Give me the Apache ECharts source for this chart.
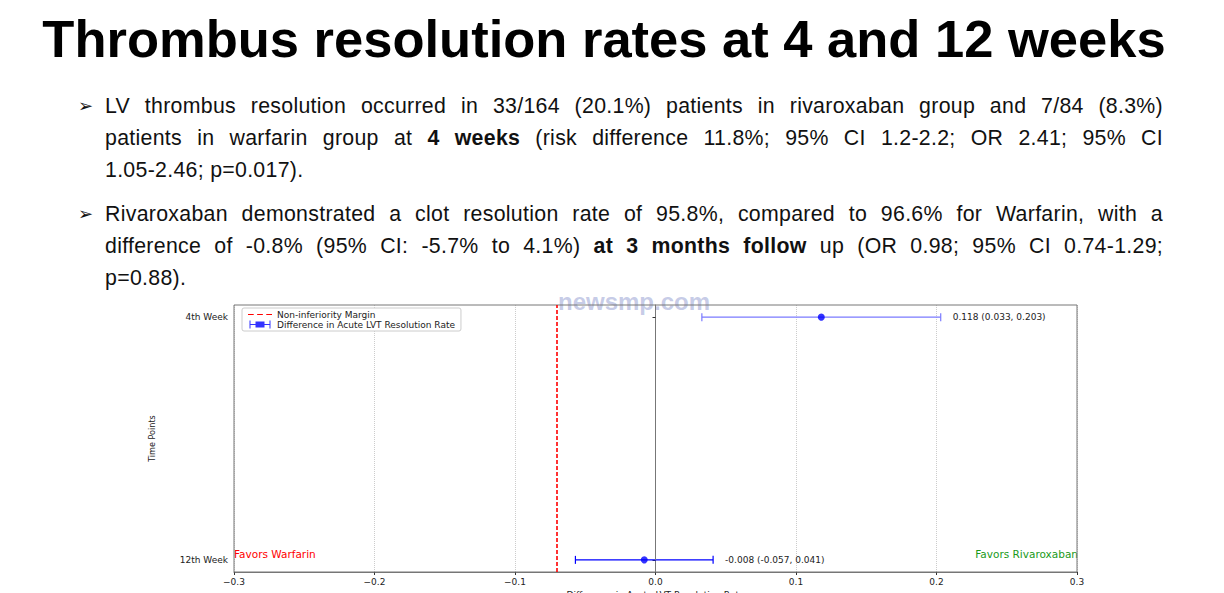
<!DOCTYPE html>
<html><head><meta charset="utf-8">
<script src="https://cdn.jsdelivr.net/npm/echarts@6/dist/echarts.min.js"></script>
<style>
body{margin:0;width:1224px;height:593px;background:#fff;overflow:hidden;font-family:"Liberation Sans",Arial,sans-serif;position:relative}
h1{position:absolute;left:0;width:1208px;top:8px;margin:0;text-align:center;font-size:52.5px;font-weight:bold;color:#000;white-space:nowrap}
.b{position:absolute;left:105px;width:1058px;font-size:21.3px;letter-spacing:0.3px;line-height:32px;color:#111}
.b div{white-space:nowrap}
.b .j{text-align:justify;text-align-last:justify}
.b:before{content:"\27A2";position:absolute;left:-27px;font-size:18px}
#chart{position:absolute;left:130px;top:295px;width:980px;height:310px}
</style></head><body>
<h1>Thrombus resolution rates at 4 and 12 weeks</h1>
<div class="b" style="top:90px">
<div class="j">LV thrombus resolution occurred in 33/164 (20.1%) patients in rivaroxaban group and 7/84 (8.3%)</div>
<div class="j">patients in warfarin group at <b>4 weeks</b> (risk difference 11.8%; 95% CI 1.2-2.2; OR 2.41; 95% CI</div>
<div>1.05-2.46; p=0.017).</div>
</div>
<div class="b" style="top:198px">
<div class="j">Rivaroxaban demonstrated a clot resolution rate of 95.8%, compared to 96.6% for Warfarin, with a</div>
<div class="j">difference of -0.8% (95% CI: -5.7% to 4.1%) <b>at 3 months follow</b> up (OR 0.98; 95% CI 0.74-1.29;</div>
<div>p=0.88).</div>
</div>
<div id="chart"></div>
<script>
var timePoints = ['12th Week', '4th Week'];
var estimates = [-0.008, 0.118];
var lower = [-0.057, 0.033];
var upper = [0.041, 0.203];
var margin = -0.07;
var xTicks = [-0.3, -0.2, -0.1, 0.0, 0.1, 0.2, 0.3];

var chart = echarts.init(document.getElementById('chart'), null, { renderer: 'svg' });
var font = 'DejaVu Sans';
var ciData = timePoints.map(function(t, i) { return [lower[i], upper[i], i, estimates[i]]; });
chart.setOption({
  animation: false,
  textStyle: { fontFamily: font },
  grid: { left: 104, right: 33, top: 10, bottom: 33, containLabel: false, outerBoundsMode: 'none' },
  legend: {
    left: 112, top: 13, orient: 'vertical', itemGap: 1, itemWidth: 24, itemHeight: 8,
    backgroundColor: '#fff', borderColor: '#ccc', borderWidth: 1, borderRadius: 2, padding: [2, 6],
    textStyle: { fontSize: 9, color: '#222', fontFamily: font },
    data: [
      { name: 'Non-inferiority Margin', icon: 'path://M0,4h5v1h-5zM8,4h5v1h-5zM16,4h5v1h-5z', itemStyle: { color: 'red' } },
      { name: 'Difference in Acute LVT Resolution Rate', icon: 'path://M0,0h1v8h-1zM20,0h1v8h-1zM0,3.5h21v1h-21zM6,1h9v6h-9z', itemStyle: { color: 'blue' } }
    ]
  },
  xAxis: {
    type: 'value', min: xTicks[0], max: xTicks[xTicks.length - 1], interval: 0.1,
    name: 'Difference in Acute LVT Resolution Rate', nameLocation: 'middle', nameGap: 14,
    nameTextStyle: { fontSize: 9, color: '#222' },
    axisLine: { onZero: false, lineStyle: { color: '#777' } },
    axisTick: { length: 3, lineStyle: { color: '#333' } },
    axisLabel: { fontSize: 9, color: '#222', margin: 5, formatter: function(v) { return v.toFixed(1).replace('-', '\u2212'); } },
    splitLine: { show: true, lineStyle: { color: '#ccc', type: 'dotted' } }
  },
  yAxis: {
    type: 'value', min: -0.05, max: 1.05,
    name: 'Time Points', nameLocation: 'middle', nameGap: 78, nameRotate: 90,
    nameTextStyle: { fontSize: 9, color: '#222', fontFamily: 'DejaVu Sans Condensed' },
    axisLine: { show: true, lineStyle: { color: '#777' } },
    axisTick: { show: true, length: 3, customValues: [0, 1], lineStyle: { color: '#333' } },
    axisLabel: { fontSize: 9, color: '#222', margin: 6, customValues: [0, 1], formatter: function(v) { return timePoints[Math.round(v)]; } },
    splitLine: { show: false }
  },
  graphic: [
    { type: 'text', left: 104, top: 253, style: { text: 'Favors Warfarin', fill: 'red', fontSize: 10.5, fontFamily: font } },
    { type: 'text', right: 32, top: 253, style: { text: 'Favors Rivaroxaban', fill: '#1a9a1a', fontSize: 10.5, fontFamily: font } },
    { type: 'text', left: 428, top: -6, style: { text: 'newsmp.com', fill: 'rgba(150,160,210,0.55)', fontSize: 24, fontWeight: 'bold', fontFamily: 'Liberation Sans' } }
  ],
  series: [
    {
      name: 'Non-inferiority Margin', type: 'line', data: [], z: 3, symbol: 'none',
      markLine: { silent: true, symbol: 'none', label: { show: false },
        data: [
          { xAxis: margin, lineStyle: { color: '#ff0000', type: [4, 2], width: 1.6, opacity: 1 } },
          { xAxis: 0, lineStyle: { color: '#777', type: [1, 2], width: 1 } }
        ] }
    },
    {
      type: 'custom', data: ciData, z: 4,
      renderItem: function(params, api) {
        var y = api.value(2);
        var a = api.coord([api.value(0), y]);
        var b = api.coord([api.value(1), y]);
        var i = params.dataIndex;
        var col = i === 1 ? '#7a7aff' : 'blue';
        var st = { stroke: col, lineWidth: 1.2 };
        var f = function(v) { return v.toFixed(3); };
        var cs = params.coordSys;
        var kids = [
          { type: 'line', shape: { x1: a[0], y1: a[1], x2: b[0], y2: b[1] }, style: st },
          { type: 'line', shape: { x1: a[0], y1: a[1] - 4, x2: a[0], y2: a[1] + 4 }, style: st },
          { type: 'line', shape: { x1: b[0], y1: b[1] - 4, x2: b[0], y2: b[1] + 4 }, style: st },
          { type: 'text', x: b[0] + 12, y: b[1], style: { text: f(estimates[i]) + ' (' + f(lower[i]) + ', ' + f(upper[i]) + ')', fill: '#222', fontSize: 9, fontFamily: font, verticalAlign: 'middle' } }
        ];
        if (i === 0) kids.push({ type: 'rect', shape: { x: cs.x, y: cs.y, width: cs.width, height: cs.height }, style: { fill: 'none', stroke: '#777', lineWidth: 1 } });
        return { type: 'group', children: kids };
      }
    },
    {
      name: 'Difference in Acute LVT Resolution Rate', type: 'scatter', symbolSize: 7, z: 5,
      itemStyle: { color: 'blue' },
      data: estimates.map(function(v, i) { return [v, i]; })
    }
  ]
});
</script>
</body></html>
